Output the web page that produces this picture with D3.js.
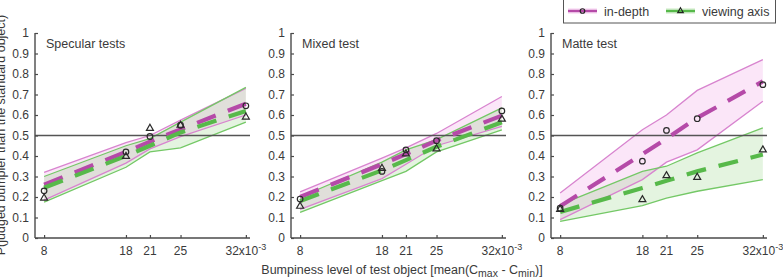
<!DOCTYPE html>
<html>
<head>
<meta charset="utf-8">
<script src="https://cdn.jsdelivr.net/npm/d3@7"></script>
<style>
	body { margin: 0; background: #fff; }
	svg { display: block; font-family: "Liberation Sans", Arial, sans-serif; }
</style>
</head>
<body>
<div id="vis"></div>
<script>

var xLevels = [8.1, 18, 20.9, 24.6, 32.5];
var xTickLabels = ["8", "18", "21", "25", "32"];
var yTicks = [0, 0.1, 0.2, 0.3, 0.4, 0.5, 0.6, 0.7, 0.8, 0.9, 1];
var panelTitles = ["Specular tests", "Mixed test", "Matte test"];
var seriesNames = ["in-depth", "viewing axis"];

// in-depth, one row per panel
var depthPoints = [
	[0.23, 0.42, 0.495, 0.55, 0.645],
	[0.19, 0.325, 0.43, 0.475, 0.62],
	[0.145, 0.375, 0.525, 0.582, 0.748]
];
var depthFit = [
	[0.26, 0.42, 0.47, 0.53, 0.655],
	[0.20, 0.36, 0.41, 0.475, 0.597],
	[0.155, 0.409, 0.485, 0.586, 0.764]
];
var depthUpper = [
	[0.32, 0.465, 0.50, 0.575, 0.73],
	[0.225, 0.39, 0.44, 0.51, 0.69],
	[0.22, 0.528, 0.60, 0.72, 0.87]
];
var depthLower = [
	[0.185, 0.365, 0.435, 0.495, 0.60],
	[0.14, 0.29, 0.36, 0.45, 0.545],
	[0.09, 0.285, 0.37, 0.43, 0.667]
];

// viewing axis
var axisPoints = [
	[0.195, 0.398, 0.535, 0.55, 0.59],
	[0.155, 0.34, 0.41, 0.435, 0.58],
	[0.14, 0.187, 0.304, 0.296, 0.43]
];
var axisFit = [
	[0.245, 0.40, 0.45, 0.515, 0.62],
	[0.18, 0.33, 0.38, 0.445, 0.565],
	[0.127, 0.244, 0.279, 0.325, 0.407]
];
var axisUpper = [
	[0.30, 0.45, 0.485, 0.565, 0.735],
	[0.20, 0.37, 0.43, 0.48, 0.635],
	[0.163, 0.325, 0.35, 0.415, 0.537]
];
var axisLower = [
	[0.175, 0.345, 0.42, 0.44, 0.565],
	[0.125, 0.28, 0.325, 0.42, 0.528],
	[0.081, 0.158, 0.195, 0.228, 0.285]
];

var W = 783, H = 278;
var panelLeft = [35, 291, 551];
var panelRight = [250, 506, 767];
var plotTop = 33, plotBottom = 238;

var magenta = "#b54aa8", magentaLight = "#d884cf", magentaFill = "rgba(225,90,205,0.15)";
var green = "#57b94a", greenLight = "#74c866", greenFill = "rgba(85,185,65,0.16)";
var axisColor = "#4a4a4a", textColor = "#3a3a3a";

var svg = d3.select("#vis").append("svg")
	.attr("width", W)
	.attr("height", H);

var y = d3.scaleLinear().domain([0, 1]).range([plotBottom, plotTop]);

function drawPanel (p) {
	var x = d3.scaleLinear().domain([7, 33]).range([panelLeft[p], panelRight[p]]);
	var g = svg.append("g");

	var area = d3.area()
		.x(function (d, i) { return x(xLevels[i]); })
		.y0(function (d) { return y(d[0]); })
		.y1(function (d) { return y(d[1]); });
	var line = d3.line()
		.x(function (d, i) { return x(xLevels[i]); })
		.y(function (d) { return y(d); });

	var bands = [
		{lo: depthLower[p], hi: depthUpper[p], fill: magentaFill, stroke: magentaLight},
		{lo: axisLower[p], hi: axisUpper[p], fill: greenFill, stroke: greenLight}
	];

	bands.forEach(function (b) {
		g.append("path")
			.attr("d", area(d3.zip(b.lo, b.hi)))
			.attr("fill", b.fill);
	});
	bands.forEach(function (b) {
		[b.lo, b.hi].forEach(function (v) {
			g.append("path")
				.attr("d", line(v))
				.attr("fill", "none")
				.attr("stroke", b.stroke)
				.attr("stroke-width", 1.3);
		});
	});

	// chance line
	g.append("line")
		.attr("x1", x.range()[0]).attr("x2", x.range()[1])
		.attr("y1", y(0.5)).attr("y2", y(0.5))
		.attr("stroke", "#555")
		.attr("stroke-width", 1.3);

	[[depthFit[p], magenta], [axisFit[p], green]].forEach(function (f) {
		g.append("path")
			.attr("d", line(f[0]))
			.attr("fill", "none")
			.attr("stroke", f[1])
			.attr("stroke-width", 4.2)
			.attr("stroke-dasharray", "20,13");
	});

	// markers
	g.selectAll(".circ").data(depthPoints[p]).enter()
		.append("circle")
		.attr("cx", function (d, i) { return x(xLevels[i]); })
		.attr("cy", function (d) { return y(d); })
		.attr("r", 2.8)
		.attr("fill", "none")
		.attr("stroke", "#2a2a2a")
		.attr("stroke-width", 1.2);

	var tri = d3.symbol().type(d3.symbolTriangle).size(21);
	g.selectAll(".tri").data(axisPoints[p]).enter()
		.append("path")
		.attr("d", tri)
		.attr("transform", function (d, i) { return "translate(" + x(xLevels[i]) + "," + y(d) + ")"; })
		.attr("fill", "none")
		.attr("stroke", "#2a2a2a")
		.attr("stroke-width", 1.2);

	// axes
	var yAxis = d3.axisRight(y).tickValues(yTicks).tickSize(3).tickFormat(d3.format("~g"));
	var ya = g.append("g").attr("transform", "translate(" + x.range()[0] + ",0)").call(yAxis);
	ya.selectAll("text").attr("x", -6).attr("text-anchor", "end");

	var xAxis = d3.axisTop(x).tickValues(xLevels).tickSize(3).tickFormat("");
	var xa = g.append("g").attr("transform", "translate(0," + plotBottom + ")").call(xAxis);

	[ya, xa].forEach(function (a) {
		a.select(".domain").attr("stroke", axisColor).attr("stroke-width", 1.4);
		a.selectAll(".tick line").attr("stroke", axisColor).attr("stroke-width", 1.2);
	});
	ya.select(".domain").attr("d", "M0," + plotBottom + "V" + plotTop);
	xa.select(".domain").attr("d", "M" + x.range()[0] + ",0H" + x.range()[1]);
	ya.selectAll("text").attr("fill", textColor).style("font-size", "12px").style("font-family", "Liberation Sans, Arial, sans-serif");

	var labels = g.selectAll(".xlab").data(xLevels).enter()
		.append("text")
		.attr("x", function (d) { return x(d); })
		.attr("y", plotBottom + 17)
		.attr("text-anchor", "middle")
		.attr("fill", textColor)
		.style("font-size", "12px");
	labels.each(function (d, i) {
		var t = d3.select(this);
		if (i == xLevels.length - 1) {
			t.append("tspan").text(xTickLabels[i] + "x10");
			t.append("tspan").attr("dy", -5).style("font-size", "9px").text("-3");
		} else {
			t.text(xTickLabels[i]);
		}
	});

	g.append("text")
		.attr("x", x.range()[0] + 11)
		.attr("y", 48)
		.attr("fill", textColor)
		.style("font-size", "12.5px")
		.text(panelTitles[p]);
}

for (var p = 0; p < 3; p++) {
	drawPanel(p);
}

// x label
var xl = svg.append("text")
	.attr("x", 402)
	.attr("y", 274)
	.attr("text-anchor", "middle")
	.attr("fill", textColor)
	.style("font-size", "12.5px");
xl.append("tspan").text("Bumpiness level of test object [mean(C");
xl.append("tspan").attr("dy", 3).style("font-size", "10.5px").text("max");
xl.append("tspan").attr("dy", -3).text(" - C");
xl.append("tspan").attr("dy", 3).style("font-size", "10.5px").text("min");
xl.append("tspan").attr("dy", -3).text(")]");

// y label, cut off at the left edge
svg.append("text")
	.attr("transform", "translate(5,135) rotate(-90)")
	.attr("text-anchor", "middle")
	.attr("fill", textColor)
	.style("font-size", "12.5px")
	.text("P(judged bumpier than the standard object)");

// legend
var lg = svg.append("g");
lg.append("rect")
	.attr("x", 563.5).attr("y", -2)
	.attr("width", 212).attr("height", 25)
	.attr("fill", "#fff")
	.attr("stroke", "#555")
	.attr("stroke-width", 1);

var legendItems = [
	{name: seriesNames[0], x0: 568, col: magenta, fill: magentaFill, sym: d3.symbolCircle},
	{name: seriesNames[1], x0: 666, col: green, fill: greenFill, sym: d3.symbolTriangle}
];
legendItems.forEach(function (d) {
	lg.append("rect")
		.attr("x", d.x0).attr("y", 8)
		.attr("width", 29).attr("height", 6)
		.attr("fill", d.fill);
	lg.append("line")
		.attr("x1", d.x0).attr("x2", d.x0 + 29)
		.attr("y1", 11).attr("y2", 11)
		.attr("stroke", d.col)
		.attr("stroke-width", 2.5);
	if (d.sym == d3.symbolCircle) {
		lg.append("circle")
			.attr("cx", d.x0 + 14.5).attr("cy", 11).attr("r", 2.3)
			.attr("fill", "none").attr("stroke", "#222").attr("stroke-width", 1.1);
	} else {
		lg.append("path")
			.attr("d", d3.symbol().type(d3.symbolTriangle).size(14))
			.attr("transform", "translate(" + (d.x0 + 14.5) + ",11)")
			.attr("fill", "none").attr("stroke", "#222").attr("stroke-width", 1.1);
	}
	lg.append("text")
		.attr("x", d.x0 + 36).attr("y", 15.5)
		.attr("fill", textColor)
		.style("font-size", "12.5px")
		.text(d.name);
});

</script>
</body>
</html>
